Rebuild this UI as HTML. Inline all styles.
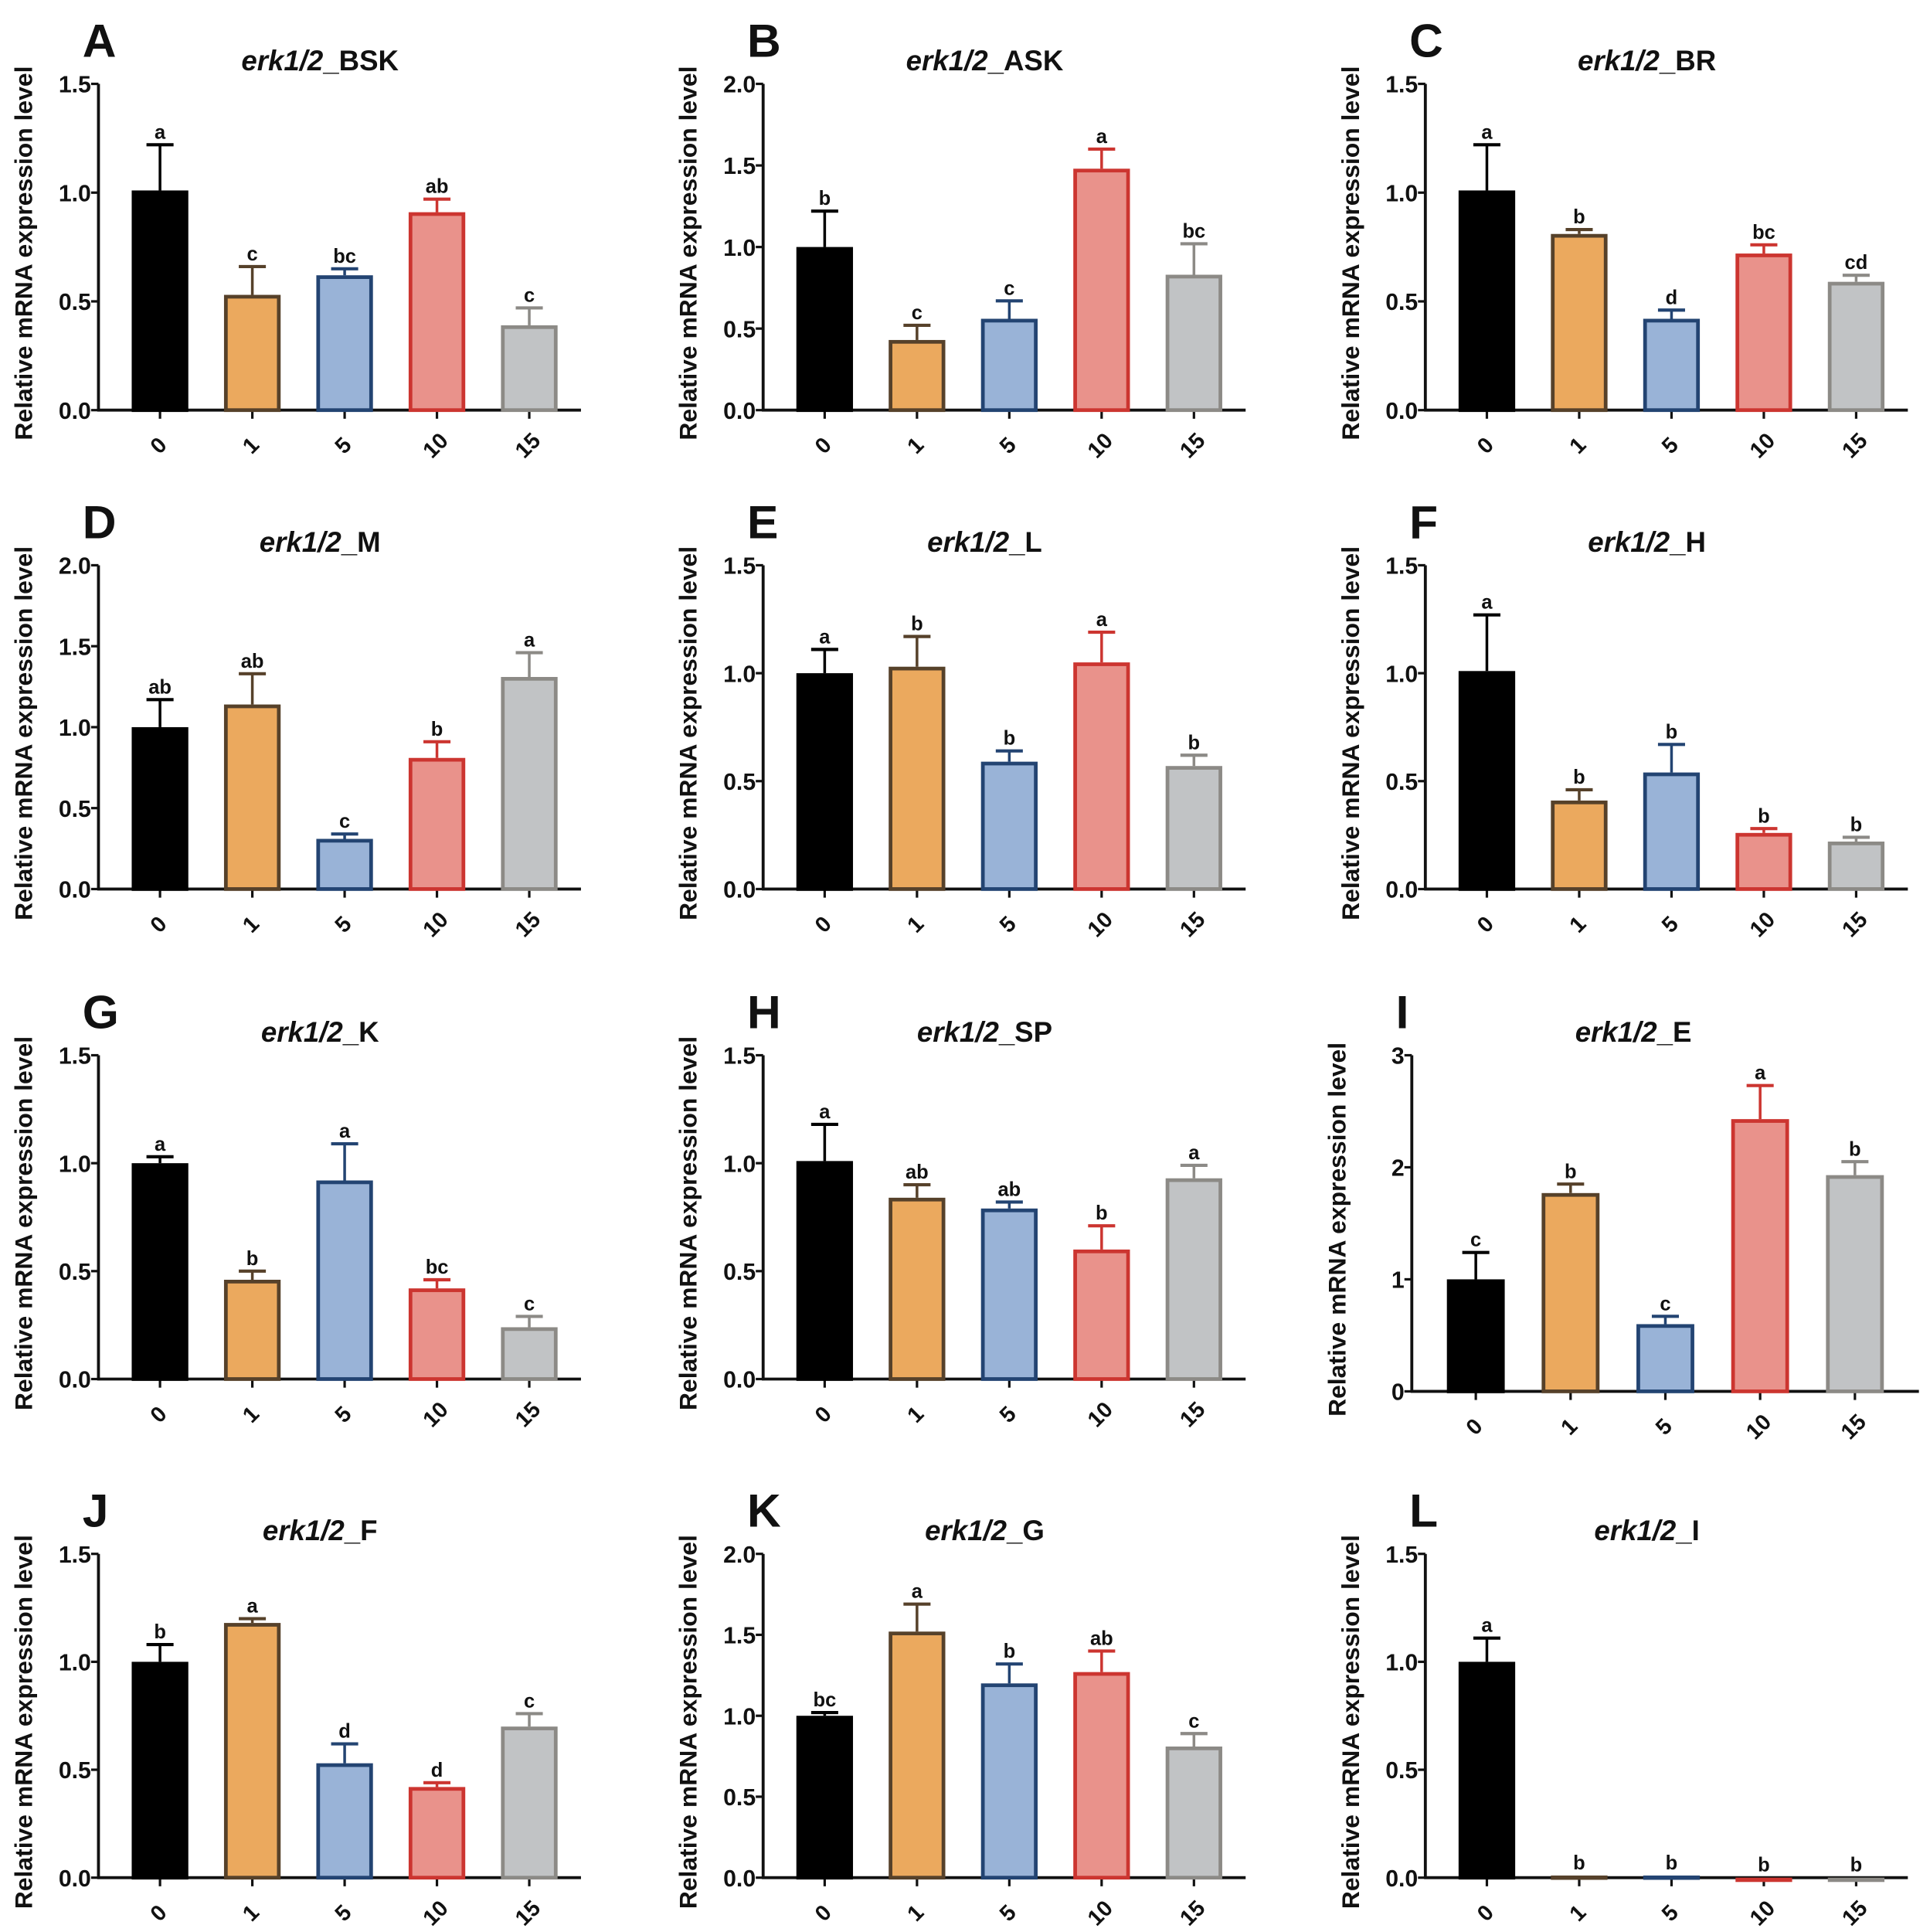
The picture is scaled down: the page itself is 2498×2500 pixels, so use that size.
<!DOCTYPE html>
<html><head><meta charset="utf-8"><style>
html,body{margin:0;padding:0;background:#fff;}
svg{display:block;}
text{font-family:"Liberation Sans",Arial,sans-serif;font-weight:bold;fill:#111;}
</style></head><body>
<svg id="fig" width="2498" height="2500" viewBox="0 0 1568 1569" xmlns="http://www.w3.org/2000/svg"></svg>
<script>
const categories = ["0","1","5","10","15"];
const panelLetters = ["A","B","C","D","E","F","G","H","I","J","K","L"];
const tissues = ["BSK","ASK","BR","M","L","H","K","SP","E","F","G","I"];
const yMaxes = [1.5,2.0,1.5,2.0,1.5,1.5,1.5,1.5,3,1.5,2.0,1.5];
const yTickSteps = [0.5,0.5,0.5,0.5,0.5,0.5,0.5,0.5,1,0.5,0.5,0.5];
const valuesA = [1.01,0.53,0.62,0.91,0.39];
const valuesB = [1.0,0.43,0.56,1.48,0.83];
const valuesC = [1.01,0.81,0.42,0.72,0.59];
const valuesD = [1.0,1.14,0.31,0.81,1.31];
const valuesE = [1.0,1.03,0.59,1.05,0.57];
const valuesF = [1.01,0.41,0.54,0.26,0.22];
const valuesG = [1.0,0.46,0.92,0.42,0.24];
const valuesH = [1.01,0.84,0.79,0.60,0.93];
const valuesI = [1.0,1.77,0.60,2.43,1.93];
const valuesJ = [1.0,1.18,0.53,0.42,0.70];
const valuesK = [1.0,1.52,1.20,1.27,0.81];
const valuesL = [1.0,0.01,0.01,0.0,0.0];
const errA = [1.22,0.66,0.65,0.97,0.47];
const errB = [1.22,0.52,0.67,1.60,1.02];
const errC = [1.22,0.83,0.46,0.76,0.62];
const errD = [1.17,1.33,0.34,0.91,1.46];
const errE = [1.11,1.17,0.64,1.19,0.62];
const errF = [1.27,0.46,0.67,0.28,0.24];
const errG = [1.03,0.50,1.09,0.46,0.29];
const errH = [1.18,0.90,0.82,0.71,0.99];
const errI = [1.24,1.85,0.67,2.73,2.05];
const errJ = [1.08,1.20,0.62,0.44,0.76];
const errK = [1.02,1.69,1.32,1.40,0.89];
const errL = [1.11,0.01,0.01,0.0,0.0];
const sigA = ["a","c","bc","ab","c"];
const sigB = ["b","c","c","a","bc"];
const sigC = ["a","b","d","bc","cd"];
const sigD = ["ab","ab","c","b","a"];
const sigE = ["a","b","b","a","b"];
const sigF = ["a","b","b","b","b"];
const sigG = ["a","b","a","bc","c"];
const sigH = ["a","ab","ab","b","a"];
const sigI = ["c","b","c","a","b"];
const sigJ = ["b","a","d","d","c"];
const sigK = ["bc","a","b","ab","c"];
const sigL = ["a","b","b","b","b"];
const allValues=[valuesA,valuesB,valuesC,valuesD,valuesE,valuesF,valuesG,valuesH,valuesI,valuesJ,valuesK,valuesL];
const allErr=[errA,errB,errC,errD,errE,errF,errG,errH,errI,errJ,errK,errL];
const allSig=[sigA,sigB,sigC,sigD,sigE,sigF,sigG,sigH,sigI,sigJ,sigK,sigL];

const fills=["#000000","#eba95e","#99b3d7","#e9928b","#c1c3c5"];
const strokes=["#000000","#56412a","#234472","#cc3530","#8c8a86"];
const NS="http://www.w3.org/2000/svg";
const svg=document.getElementById('fig');
function mk(tag,attrs,parent){const e=document.createElementNS(NS,tag);for(const k in attrs)e.setAttribute(k,attrs[k]);(parent||svg).appendChild(e);return e;}

const colX=[80,620,1158];
const rowTop=[68,459,857,1262];
const rowZero=[333,722,1120,1525];

for(let p=0;p<12;p++){
  const col=p%3,row=Math.floor(p/3);
  let ax=colX[col], top=rowTop[row], zero=rowZero[row], w=392, spacing=75, first=50, bw=46;
  if(p===8){ax=1147;zero=1130;w=412;spacing=77;first=52;bw=47;}
  const g=mk('g',{});
  
  
  const ymax=yMaxes[p];
  const yScale=v=>zero-(v/ymax)*(zero-top);
  const xScale=i=>ax+first+i*spacing;
  let t=mk('text',{x:ax-13,y:top-22,'font-size':38},g);t.textContent=panelLetters[p];
  
  t=mk('text',{x:ax+180,y:top-11,'font-size':23,'text-anchor':'middle'},g);
  
  const ts=mk('tspan',{'font-style':'italic'},t);ts.textContent='erk1/2';
  const ts2=mk('tspan',{},t);ts2.textContent='_'+tissues[p];
  t=mk('text',{x:0,y:0,'font-size':20,'text-anchor':'middle',transform:`translate(${ax-54},${(top+zero)/2+5}) rotate(-90)`},g);
  t.textContent='Relative mRNA expression level';
  
  let l=mk('line',{x1:ax,y1:top,x2:ax,y2:zero+1,stroke:'#111','stroke-width':2.4},g);
  
  l=mk('line',{x1:ax-1,y1:zero,x2:ax+w,y2:zero,stroke:'#111','stroke-width':2.4},g);
  
  const step=yTickSteps[p];
  for(let v=0;v<=ymax+1e-9;v+=step){
    const y=yScale(v);
    mk('line',{x1:ax-6,y1:y,x2:ax,y2:y,stroke:'#111','stroke-width':2},g);
    t=mk('text',{x:ax-6,y:y+7,'font-size':19,'text-anchor':'end'},g);
    t.textContent=step<1?v.toFixed(1):String(Math.round(v));
    
  }
  const vals=allValues[p],errs=allErr[p],sigs=allSig[p];
  for(let i=0;i<categories.length;i++){
    const cx=xScale(i);
    mk('line',{x1:cx,y1:zero,x2:cx,y2:zero+7,stroke:'#111','stroke-width':2},g);
    t=mk('text',{x:0,y:0,'font-size':18,'text-anchor':'middle',transform:`translate(${cx+3},${zero+33}) rotate(-45)`},g);
    t.textContent=categories[i];
    
    const yv=yScale(vals[i]),ye=yScale(errs[i]);
    if(errs[i]>vals[i]+0.001){
      mk('line',{x1:cx,y1:yv,x2:cx,y2:ye,stroke:strokes[i],'stroke-width':2.2},g);
      mk('line',{x1:cx-11,y1:ye,x2:cx+11,y2:ye,stroke:strokes[i],'stroke-width':2.6},g);
    }
    const h=Math.max(zero-yv,0);
    const r=mk('rect',{x:cx-bw/2+1.5,y:yv+1.5,width:bw-3,height:Math.max(h-1.5,0.5),fill:fills[i],stroke:strokes[i],'stroke-width':3},g);
    
    t=mk('text',{x:cx,y:Math.min(ye,yv)-5,'font-size':16,'text-anchor':'middle'},g);
    t.textContent=sigs[i];
    
  }
}
</script>
</body></html>
